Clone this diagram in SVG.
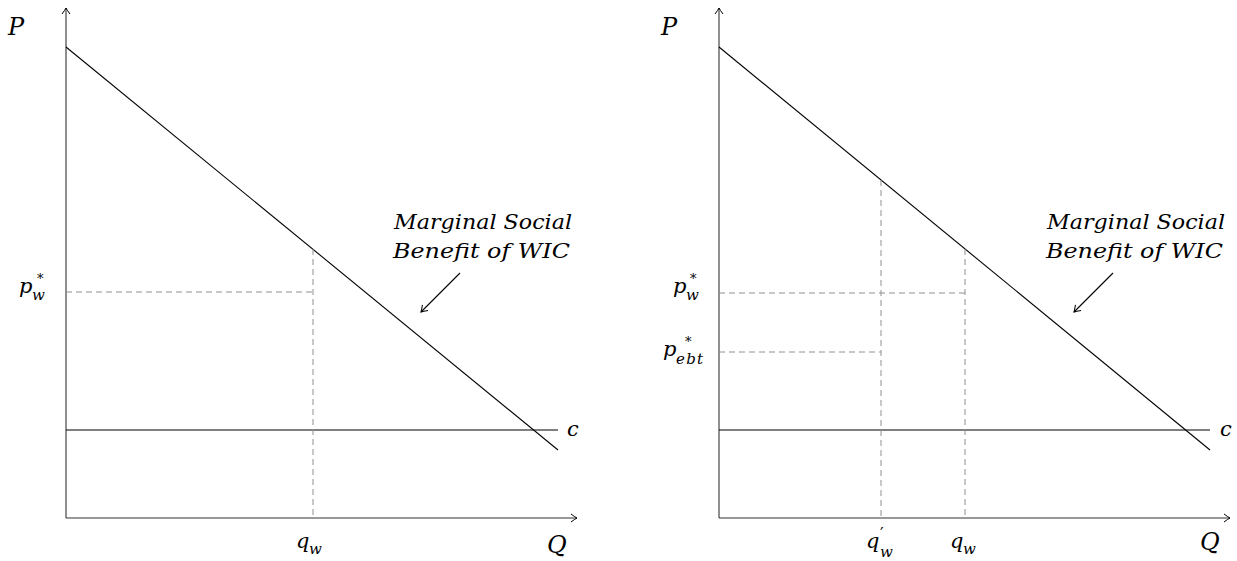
<svg xmlns="http://www.w3.org/2000/svg" width="1237" height="561" viewBox="0 0 1237 561">
<defs>
<marker id="arr" viewBox="-8 -5 10 10" refX="0" refY="0" markerWidth="10" markerHeight="10" markerUnits="userSpaceOnUse" orient="auto">
<path d="M-6,-4 Q-2,-1 0,0 Q-2,1 -6,4" fill="none" stroke="#000" stroke-width="1"/>
</marker>
</defs>
<style>
.ax{stroke:#333;stroke-width:1.1;fill:none}
.ln{stroke:#000;stroke-width:1.1;fill:none}
.da{stroke:#909090;stroke-width:1;stroke-dasharray:6 4;fill:none}
.t{font-family:"DejaVu Serif","Liberation Serif",serif;font-style:italic;font-size:21px;fill:#000}
.b{font-family:"DejaVu Serif","Liberation Serif",serif;font-style:italic;font-size:24px;fill:#000}
.s{font-family:"DejaVu Serif","Liberation Serif",serif;font-style:italic;font-size:15px;fill:#000}
.st{font-family:"DejaVu Serif","Liberation Serif",serif;font-size:13px;fill:#000}
.pr{font-family:"DejaVu Serif","Liberation Serif",serif;font-size:16px;fill:#000}
.a{font-family:"DejaVu Serif","Liberation Serif",serif;font-style:italic;font-size:20px;fill:#000}
</style>
<rect width="1237" height="561" fill="#fff"/>
<g id="connectors">
<line class="ax" x1="66" y1="518" x2="66" y2="8" marker-end="url(#arr)"/>
<line class="ax" x1="66" y1="518" x2="577" y2="518" marker-end="url(#arr)"/>
<line class="ln" x1="66" y1="47" x2="558" y2="450"/>
<line class="ln" x1="66" y1="430" x2="558" y2="430"/>
<line class="da" x1="66" y1="292" x2="313" y2="292"/>
<line class="da" x1="313" y1="249" x2="313" y2="518"/>
<line class="ln" x1="460" y1="273" x2="421" y2="312" marker-end="url(#arr)"/>
<line class="ax" x1="719" y1="518" x2="719" y2="8" marker-end="url(#arr)"/>
<line class="ax" x1="719" y1="518" x2="1230" y2="518" marker-end="url(#arr)"/>
<line class="ln" x1="719" y1="47" x2="1210" y2="450"/>
<line class="ln" x1="719" y1="430" x2="1210" y2="430"/>
<line class="da" x1="719" y1="293" x2="965" y2="293"/>
<line class="da" x1="965" y1="249" x2="965" y2="518"/>
<line class="da" x1="719" y1="352" x2="881" y2="352"/>
<line class="da" x1="881" y1="180" x2="881" y2="518"/>
<line class="ln" x1="1113" y1="273" x2="1074" y2="312" marker-end="url(#arr)"/>
</g>
<g id="left-labels">
<text class="b" x="8" y="35">P</text>
<text class="t" x="19" y="293">p</text><text class="s" x="32" y="300">w</text><text class="st" x="37" y="283">*</text>
<text class="t" x="296" y="548">q</text><text class="s" x="309" y="554">w</text>
<text class="b" x="547" y="553">Q</text>
<text class="t" x="567" y="436">c</text>
<text class="a" x="394" y="229" textLength="178" lengthAdjust="spacingAndGlyphs">Marginal Social</text>
<text class="a" x="393" y="258" textLength="177" lengthAdjust="spacingAndGlyphs">Benefit of WIC</text>
</g>
<g id="right-labels">
<text class="b" x="661" y="35">P</text>
<text class="t" x="673" y="293">p</text><text class="s" x="686" y="300">w</text><text class="st" x="690" y="283">*</text>
<text class="t" x="663" y="356">p</text><text class="s" x="676" y="364" textLength="27">ebt</text><text class="st" x="685" y="346">*</text>
<text class="t" x="866" y="548">q</text><text class="pr" x="880" y="539">′</text><text class="s" x="880" y="557">w</text>
<text class="t" x="950" y="548">q</text><text class="s" x="963" y="554">w</text>
<text class="b" x="1200" y="550">Q</text>
<text class="t" x="1220" y="436">c</text>
<text class="a" x="1047" y="229" textLength="178" lengthAdjust="spacingAndGlyphs">Marginal Social</text>
<text class="a" x="1046" y="258" textLength="177" lengthAdjust="spacingAndGlyphs">Benefit of WIC</text>
</g>
</svg>
